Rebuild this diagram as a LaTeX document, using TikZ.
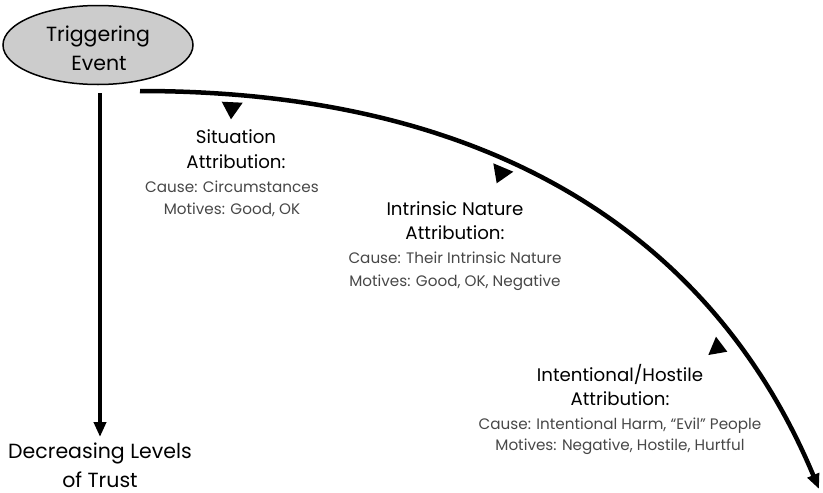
\documentclass[tikz,border=0pt]{standalone}
\usepackage{fontspec}
\setmainfont{Poppins}
\usetikzlibrary{arrows.meta,shapes.geometric}
\begin{document}
\begin{tikzpicture}[x=1pt,y=-1pt,
  lbl/.style={anchor=base, inner sep=0pt},
  title/.style={lbl, font=\fontsize{18.2}{20}\selectfont},
  sub/.style={lbl, font=\fontsize{15.2}{16}\selectfont, text=black!72},
  big/.style={lbl, font=\fontsize{20.5}{24}\selectfont},
  marker/.style={fill=black, draw=none}]
\useasboundingbox (0,0) rectangle (823,493);
% triggering event
\node[ellipse, draw, line width=1.5pt, fill=black!20, minimum width=190pt, minimum height=79pt] (trig) at (98,45) {};
\node[big] (t1) at (98,41) {Triggering};
\node[big] (t2) at (99,70) {Event};
% vertical arrow
\coordinate (vs) at (100,93);
\coordinate (ve) at (100,437);
\draw[line width=3.8pt, -{Triangle[length=15pt,width=12pt]}] (vs) -- (ve);
\node[big] (d1) at (100,458) {Decreasing Levels};
\node[big] (d2) at (100,487) {of Trust};
% curve
\coordinate (cs) at (140,91);
\coordinate (ce) at (819,489);
\draw[line width=4.5pt, -{Triangle[length=15pt,width=12pt]}] (cs) .. controls (520,91) and (723,259) .. (ce);
% markers
\fill[marker] (221.7,101.7) -- (242.7,102.7) -- (231,119.3) -- cycle;
\fill[marker] (493.3,163.3) -- (513.3,171.7) -- (496.7,183.3) -- cycle;
\fill[marker] (716,336.7) -- (727.3,351.7) -- (708.3,355) -- cycle;
% block 1
\node[title] (s1) at (236,143) {Situation};
\node[title] (s2) at (236,168) {Attribution:};
\node[sub] (s3) at (232,192) {Cause: Circumstances};
\node[sub] (s4) at (232,214) {Motives: Good, OK};
% block 2
\node[title] (n1) at (455,215) {Intrinsic Nature};
\node[title] (n2) at (455,239) {Attribution:};
\node[sub] (n3) at (455,263) {Cause: Their Intrinsic Nature};
\node[sub] (n4) at (455,286) {Motives: Good, OK, Negative};
% block 3
\node[title] (h1) at (620,381) {Intentional/Hostile};
\node[title] (h2) at (620,405) {Attribution:};
\node[sub] (h3) at (620,429) {Cause: Intentional Harm, “Evil” People};
\node[sub] (h4) at (620,450) {Motives: Negative, Hostile, Hurtful};
\end{tikzpicture}
\end{document}
